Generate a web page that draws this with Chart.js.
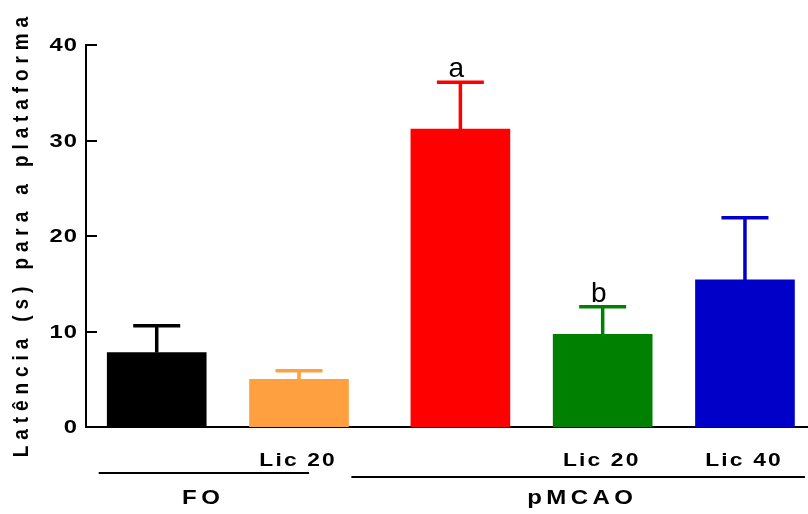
<!DOCTYPE html>
<html>
<head>
<meta charset="utf-8">
<script src="https://cdn.jsdelivr.net/npm/chart.js@4"></script>
<style>html,body{margin:0;padding:0;background:#fff}</style>
</head>
<body>
<canvas id="latencyChart" width="808" height="514"></canvas>
<script>
// data
const treatments = ['', 'Lic 20', '', 'Lic 20', 'Lic 40'];
const groups = ['FO', 'FO', 'pMCAO', 'pMCAO', 'pMCAO'];
const means = [7.8, 5.0, 31.2, 9.7, 15.4];
const sems = [2.8, 0.9, 4.9, 2.9, 6.5];
const sigLetters = ['', '', 'a', 'b', ''];
const barColors = ['#000000', '#FFA040', '#FF0000', '#008000', '#0000C8'];
const yTicks = [0, 10, 20, 30, 40];
const yTitle = 'Latência (s) para a plataforma';

const groupNames = [...new Set(groups)];
const GROUP_GAP = 0.134;
const xPos = groups.map((g, i) => i + groupNames.indexOf(g) * GROUP_GAP);

// text helper: letter spacing + horizontal stretch (sx) / vertical stretch (sy)
function txt(ctx, s, x, y, font, spacing, align, baseline, sx, sy) {
    sx = sx || 1; sy = sy || 1;
    ctx.save();
    ctx.font = font;
    ctx.letterSpacing = spacing + 'px';
    ctx.fillStyle = '#000';
    ctx.textBaseline = baseline || 'middle';
    const w = ctx.measureText(s).width - spacing;
    let left = 0;
    if (align === 'center') left = -w / 2;
    if (align === 'right') left = -w;
    ctx.translate(x, y);
    ctx.scale(sx, sy);
    ctx.textAlign = 'left';
    ctx.fillText(s, left, 0);
    ctx.restore();
}

const decorations = {
    id: 'decorations',
    afterDraw(chart) {
        const ctx = chart.ctx;
        const y = chart.scales.y;
        const area = chart.chartArea;
        const bars = chart.getDatasetMeta(0).data;
        const F = '"Liberation Sans", Arial';

        // inward tick marks + tick labels
        ctx.save();
        ctx.strokeStyle = '#000';
        ctx.lineWidth = 2;
        y.ticks.forEach(t => {
            const py = Math.round(y.getPixelForValue(t.value));
            ctx.beginPath();
            ctx.moveTo(area.left, py);
            ctx.lineTo(area.left + 11, py);
            ctx.stroke();
            txt(ctx, String(t.value), area.left - 9, py + 1, 'bold 19px ' + F, 0.8, 'right', 'middle', 1.25);
        });
        ctx.restore();

        // error bars (upper only)
        bars.forEach((bar, i) => {
            const top = y.getPixelForValue(means[i]);
            const cap = y.getPixelForValue(means[i] + sems[i]);
            ctx.save();
            ctx.strokeStyle = barColors[i];
            ctx.lineWidth = 3.5;
            ctx.beginPath();
            ctx.moveTo(bar.x, top);
            ctx.lineTo(bar.x, cap);
            ctx.moveTo(bar.x - 23.5, cap);
            ctx.lineTo(bar.x + 23.5, cap);
            ctx.stroke();
            ctx.restore();
            if (sigLetters[i]) {
                txt(ctx, sigLetters[i], bar.x - 4, cap - 5, '28px ' + F, 0, 'center', 'alphabetic');
            }
            if (treatments[i]) {
                txt(ctx, treatments[i], bar.x - 2, 461, 'bold 19px ' + F, 1.8, 'center', 'middle', 1.2);
            }
        });

        // group lines and names
        const groupSpan = {FO: [-58, 10, 473, 201], pMCAO: [-109, 60, 477, 580]};
        groupNames.forEach(g => {
            const idx = groups.map((v, i) => v === g ? i : -1).filter(i => i >= 0);
            const x0 = bars[idx[0]].x + groupSpan[g][0];
            const x1 = bars[idx[idx.length - 1]].x + groupSpan[g][1];
            ctx.save();
            ctx.strokeStyle = '#000';
            ctx.lineWidth = 2;
            ctx.beginPath();
            ctx.moveTo(x0, groupSpan[g][2]);
            ctx.lineTo(x1, groupSpan[g][2]);
            ctx.stroke();
            ctx.restore();
            txt(ctx, g, groupSpan[g][3], 498, 'bold 20px ' + F, 3.7, 'center', 'middle', 1.2);
        });

        // y axis title
        ctx.save();
        ctx.translate(22, 237);
        ctx.rotate(-Math.PI / 2);
        txt(ctx, yTitle, 0, 0, 'bold 19px ' + F, 5.9, 'center', 'middle', 1, 1.15);
        ctx.restore();
    }
};

const ctx = document.getElementById('latencyChart').getContext('2d');
new Chart(ctx, {
    type: 'bar',
    data: {
        datasets: [{
            data: xPos.map((x, i) => ({x: x, y: means[i]})),
            backgroundColor: barColors,
            borderWidth: 0,
            barThickness: 99
        }]
    },
    options: {
        responsive: false,
        animation: false,
        layout: { padding: { top: 45, left: 0, right: 0, bottom: 0 } },
        plugins: { legend: { display: false }, tooltip: { enabled: false } },
        scales: {
            x: {
                type: 'linear',
                offset: false,
                min: -0.497,
                max: 4.577,
                ticks: { display: false },
                grid: { display: false, drawTicks: false },
                border: { display: true, color: '#000', width: 2 },
                afterFit(s) { s.height = 87; }
            },
            y: {
                min: 0,
                max: 40,
                afterBuildTicks(s) { s.ticks = yTicks.map(v => ({value: v})); },
                ticks: { display: false },
                grid: { display: false, drawTicks: false },
                border: { display: true, color: '#000', width: 2 },
                afterFit(s) { s.width = 86; }
            }
        }
    },
    plugins: [decorations]
});
</script>
</body>
</html>
